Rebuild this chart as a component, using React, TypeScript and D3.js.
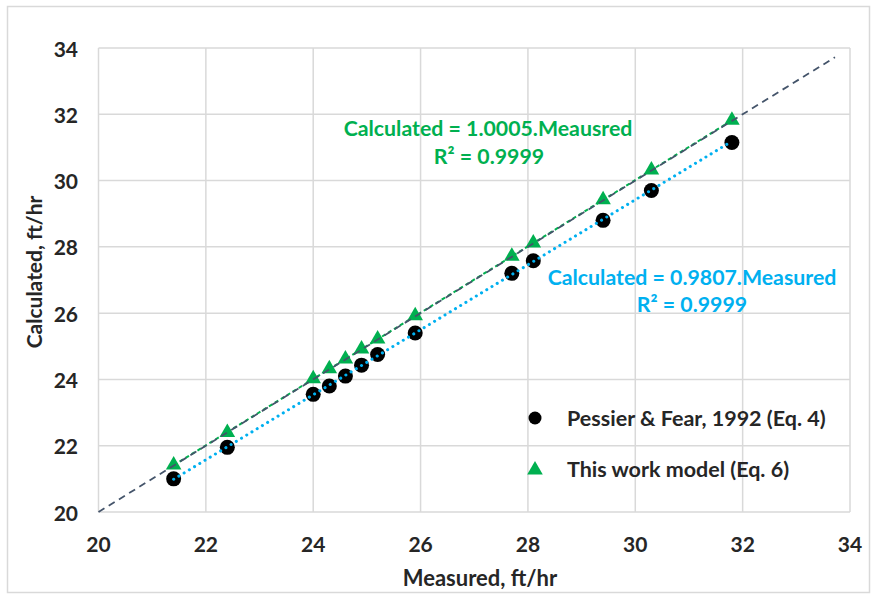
import React, { useEffect, useRef } from "react";
import * as d3 from "d3";

const measured = [21.4, 22.4, 24.0, 24.3, 24.6, 24.9, 25.2, 25.9, 27.7, 28.1, 29.4, 30.3, 31.8];
const pessier = [21.0, 21.95, 23.55, 23.8, 24.1, 24.43, 24.75, 25.4, 27.2, 27.58, 28.8, 29.7, 31.15];
const thisWork = [21.42, 22.4, 24.02, 24.32, 24.62, 24.92, 25.22, 25.92, 27.72, 28.12, 29.42, 30.32, 31.82];
const ticks = [20, 22, 24, 26, 28, 30, 32, 34];
const slopeThisWork = 1.0005;
const slopePessier = 0.9807;
const legendLabels = ["Pessier & Fear, 1992 (Eq. 4)", "This work model (Eq. 6)"];

const W = 877;
const H = 598;
const FONT = "Lato, 'Open Sans', sans-serif";
const GREEN = "#00B050";
const BLUE = "#00B0F0";
const NAVY = "#44546A";
const GRID = "#D9D9D9";
const TEXT = "#262626";

const App = () => {
    const ref = useRef(null);

    useEffect(() => {
        const svg = d3.select(ref.current);
        svg.selectAll("*").remove();

        const x = d3.scaleLinear().domain([20, 34]).range([98.5, 850]);
        const y = d3.scaleLinear().domain([20, 34]).range([512, 48]);

        // outer chart border
        svg.append("rect")
            .attr("x", 7.5).attr("y", 6.5)
            .attr("width", 862).attr("height", 586)
            .attr("fill", "white")
            .attr("stroke", GRID)
            .attr("stroke-width", 1.5);

        // gridlines
        const grid = svg.append("g");
        grid.selectAll("line.v").data(ticks).enter().append("line")
            .attr("x1", d => x(d)).attr("x2", d => x(d))
            .attr("y1", y(20)).attr("y2", y(34))
            .attr("stroke", GRID).attr("stroke-width", 1.5);
        grid.selectAll("line.h").data(ticks).enter().append("line")
            .attr("y1", d => y(d)).attr("y2", d => y(d))
            .attr("x1", x(20)).attr("x2", x(34))
            .attr("stroke", GRID).attr("stroke-width", 1.5);

        // tick labels
        svg.append("g").selectAll("text").data(ticks).enter().append("text")
            .attr("x", d => x(d)).attr("y", 543)
            .attr("text-anchor", "middle")
            .attr("dominant-baseline", "central")
            .style("font-family", FONT).style("font-size", "21px").style("font-weight", 700)
            .attr("fill", TEXT)
            .text(d => d);
        svg.append("g").selectAll("text").data(ticks).enter().append("text")
            .attr("x", 78).attr("y", d => y(d))
            .attr("text-anchor", "end")
            .attr("dominant-baseline", "central")
            .style("font-family", FONT).style("font-size", "21px").style("font-weight", 700)
            .attr("fill", TEXT)
            .text(d => d);

        // axis titles
        svg.append("text")
            .attr("x", 480).attr("y", 577)
            .attr("text-anchor", "middle").attr("dominant-baseline", "central")
            .style("font-family", FONT).style("font-size", "22px").style("font-weight", 700)
            .attr("fill", TEXT)
            .text("Measured, ft/hr");
        svg.append("text")
            .attr("transform", "translate(33,272) rotate(-90)")
            .attr("text-anchor", "middle").attr("dominant-baseline", "central")
            .style("font-family", FONT).style("font-size", "21px").style("font-weight", 700)
            .attr("fill", TEXT)
            .text("Calculated, ft/hr");

        // markers
        const pts = measured.map((m, i) => ({ m, p: pessier[i], t: thisWork[i] }));
        svg.append("g").selectAll("circle").data(pts).enter().append("circle")
            .attr("cx", d => x(d.m)).attr("cy", d => y(d.p))
            .attr("r", 7.5)
            .attr("fill", "black");
        const tri = d3.symbol().type(d3.symbolTriangle).size(105);
        svg.append("g").selectAll("path").data(pts).enter().append("path")
            .attr("d", tri)
            .attr("transform", d => `translate(${x(d.m)},${y(d.t)})`)
            .attr("fill", GREEN);

        // lines
        const line = d3.line().x(d => x(d[0])).y(d => y(d[1]));
        const xMin = d3.min(measured);
        const xMax = d3.max(measured);
        svg.append("path")
            .attr("d", line([[xMin, xMin * slopePessier], [xMax, xMax * slopePessier]]))
            .attr("stroke", BLUE).attr("stroke-width", 3)
            .attr("stroke-linecap", "round")
            .attr("stroke-dasharray", "0.1,6")
            .attr("fill", "none");
        svg.append("path")
            .attr("d", line([[xMin, xMin * slopeThisWork], [xMax, xMax * slopeThisWork]]))
            .attr("stroke", GREEN).attr("stroke-width", 2)
            .attr("stroke-dasharray", "4,3")
            .attr("fill", "none");
        svg.append("path")
            .attr("d", line([[20, 20], [33.72, 33.72]]))
            .attr("stroke", NAVY).attr("stroke-width", 1.8)
            .attr("stroke-dasharray", "7,5")
            .attr("fill", "none");

        // equations
        const eq = [
            { text: "Calculated = 1.0005.Meausred", cx: 488, cy: 128, color: GREEN },
            { text: "R² = 0.9999", cx: 489, cy: 156, color: GREEN },
            { text: "Calculated = 0.9807.Measured", cx: 692, cy: 277, color: BLUE },
            { text: "R² = 0.9999", cx: 692, cy: 304, color: BLUE },
        ];
        svg.append("g").selectAll("text").data(eq).enter().append("text")
            .attr("x", d => d.cx).attr("y", d => d.cy)
            .attr("text-anchor", "middle").attr("dominant-baseline", "central")
            .style("font-family", FONT).style("font-size", "21.3px").style("font-weight", 700)
            .attr("fill", d => d.color)
            .text(d => d.text);

        // legend
        const legend = svg.append("g");
        legend.append("circle").attr("cx", 535).attr("cy", 418).attr("r", 6.5).attr("fill", "black");
        legend.append("path").attr("d", tri).attr("transform", "translate(535,470)").attr("fill", GREEN);
        legend.selectAll("text").data(legendLabels).enter().append("text")
            .attr("x", 567).attr("y", (d, i) => 418 + i * 51)
            .attr("dominant-baseline", "central")
            .style("font-family", FONT).style("font-size", "21.5px").style("font-weight", 700)
            .attr("fill", TEXT)
            .text(d => d);
    }, []);

    return (
        <svg ref={ref} width={W} height={H}
            style={{ position: "absolute", left: 0, top: 0, background: "white" }} />
    );
};

export default App;
